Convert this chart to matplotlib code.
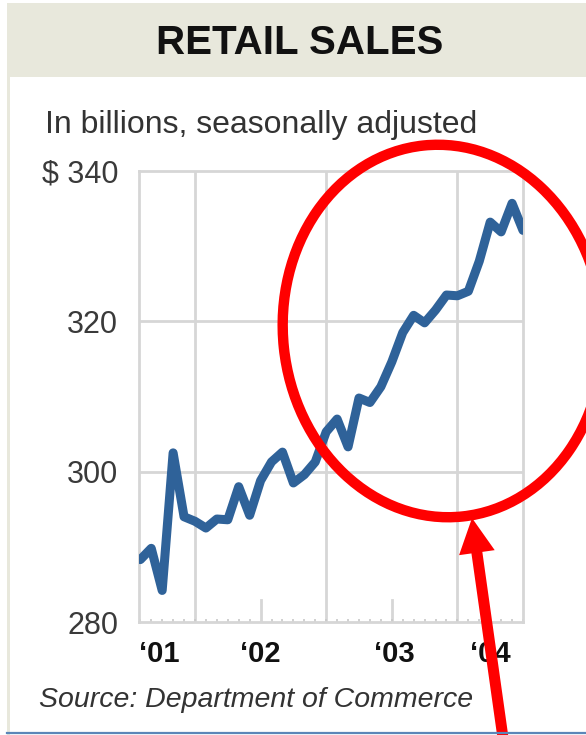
import numpy as np
import matplotlib
matplotlib.use("Agg")
import matplotlib.pyplot as plt
from matplotlib.patches import Ellipse, FancyArrow, Rectangle
from matplotlib.ticker import FixedLocator

plt.rcParams["font.family"] = ["Liberation Sans", "DejaVu Sans"]

# ── data: monthly retail sales, Aug 2001 .. Jul 2004 ($ billions) ──
sales = [
    288.3, 289.8, 284.2, 302.5, 294.0, 293.4, 292.5, 293.7, 293.6, 298.0,
    294.2, 298.8, 301.3, 302.6, 298.5, 299.6, 301.3, 305.3, 307.0, 303.3,
    309.8, 309.2, 311.3, 314.6, 318.5, 320.8, 319.8, 321.5, 323.5, 323.4,
    324.0, 328.0, 333.2, 331.9, 335.7, 332.1,
]
start_year, start_month = 2001, 8
year_labels = ["\u201801", "\u201802", "\u201803", "\u201804"]
y_ticks = [280, 300, 320, 340]
y_labels = ["280", "300", "320", "$ 340"]

months = start_year + (start_month - 1 + np.arange(len(sales))) / 12.0

# ── styles ──
LINE_C = "#2F6299"
GRID_C = "#d6d6d6"
BAND_C = "#e8e8dc"
RED = "#ff0000"

fig = plt.figure(figsize=(5.86, 7.35), dpi=100)
W, H = 586, 735
ax = fig.add_axes([139 / W, 113 / H, 384 / W, 451 / H])

ax.plot(months, sales, color=LINE_C, lw=6.5, solid_capstyle="round",
        solid_joinstyle="round", zorder=3)

ax.set_xlim(months[0] - 0.01, months[-1])
ax.set_ylim(280, 340)

# grid: horizontal every $20, vertical at year starts
for v in (300, 320):
    ax.axhline(v, color=GRID_C, lw=2, zorder=1)
for yr in (2002, 2003, 2004):
    ax.axvline(yr, color=GRID_C, lw=2, zorder=1)
# taller ticks at mid-year
for yr in (2002.5, 2003.5):
    ax.axvline(yr, ymin=0, ymax=22 / 451, color=GRID_C, lw=2, zorder=1)

for s in ax.spines.values():
    s.set_color(GRID_C)
    s.set_linewidth(2)

ax.set_yticks(y_ticks)
ax.set_yticklabels(y_labels)
ax.tick_params(axis="y", length=0, pad=15, labelsize=22, labelcolor="#3a3a3a")

ax.set_xticks([2001.73, 2002.5, 2003.52, 2004.25])
ax.set_xticklabels(year_labels, fontweight="bold")
ax.tick_params(axis="x", which="major", length=0, pad=13, labelsize=21,
               labelcolor="#111111")
ax.xaxis.set_minor_locator(FixedLocator(months))
ax.tick_params(axis="x", which="minor", direction="in", length=2.5,
               width=1.2, color="#c8c8c8")

# ── frame, header and notes drawn in pixel space ──
over = fig.add_axes([0, 0, 1, 1], zorder=10)
over.set_xlim(0, W)
over.set_ylim(H, 0)
over.axis("off")
over.patch.set_alpha(0)

over.add_patch(Rectangle((7, 3), W - 7, 74, color=BAND_C, lw=0))
over.add_patch(Rectangle((7, 3), 3, H, color=BAND_C, lw=0))
over.plot([7, W], [733, 733], color="#5b86b8", lw=1.6)

over.text(300, 43, "RETAIL SALES", ha="center", va="center", fontsize=29,
          fontweight="bold", color="#111111")
over.text(45, 125, "In billions, seasonally adjusted", ha="left", va="center",
          fontsize=23, color="#333333")
over.text(39, 700, "Source: Department of Commerce", ha="left", va="center",
          fontsize=20.5, style="italic", color="#333333")

# red highlight
over.add_patch(Ellipse((443, 331), 320, 373, angle=-6, fill=False,
                       ec=RED, lw=7.5))
over.add_patch(FancyArrow(504, 745, -32, -227, width=11, head_width=36,
                          head_length=35, length_includes_head=True,
                          color=RED, lw=0))

fig.savefig("out.png", dpi=100)
